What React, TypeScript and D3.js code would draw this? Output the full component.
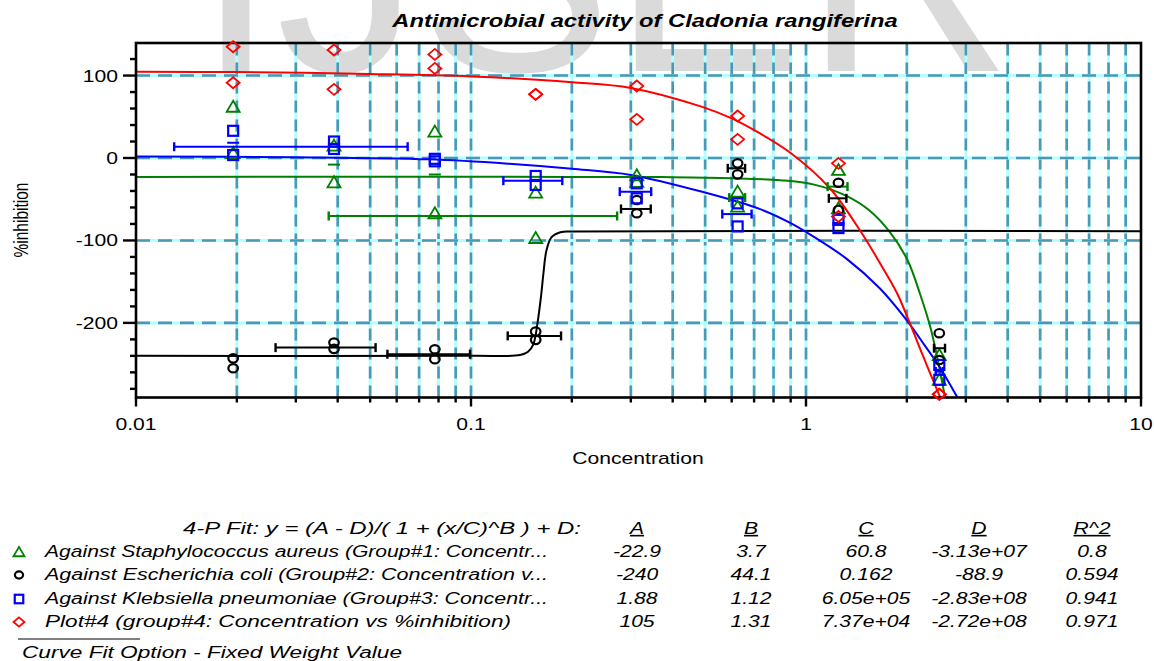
import React, { useEffect, useRef } from "react";
import * as d3 from "d3";

// Dilution series (x values of the replicates)
const concentrations = [0.0195, 0.039, 0.078, 0.156, 0.3125, 0.625, 1.25, 2.5];

// Replicate readings, %inhibition, two per concentration
const staphRep1 = [62.2, 15, 32, -42, -21, -40.8, -14.5, -239];
const staphRep2 = [6, -29.5, -67, -97, -29, -59, -61, -269];
const ecoliRep1 = [-243, -223.8, -232, -210.5, -51, -6.5, -30, -212.5];
const ecoliRep2 = [-255, -231.5, -244, -220.6, -67, -19.8, -63, -245];
const klebRep1 = [33, 20, -1, -21.8, -30.7, -55, -75, -251];
const klebRep2 = [3.6, 11, -4, -32.7, -48.9, -83, -85, -269];
const plot4Rep1 = [135, 131, 125.7, 77.2, 87.3, 50.9, -6.5, -286.5];
const plot4Rep2 = [91.3, 83.3, 108.7, 77.2, 46.9, 22.6, -71, -286.5];

// Horizontal error bars: [low conc, high conc, %inhibition]
const staphErrors = [
  [0.0376, 0.273, -70.3],
  [0.59, 0.658, -48],
  [1.16, 1.33, -34.7],
];
const ecoliErrors = [
  [0.0261, 0.0519, -230],
  [0.0563, 0.0993, -238],
  [0.1287, 0.1857, -215.8],
  [0.2804, 0.344, -61.8],
  [0.584, 0.658, -12.5],
  [1.17, 1.32, -48.9],
  [2.41, 2.6, -230.7],
];
const klebErrors = [
  [0.013, 0.0647, 13.7],
  [0.1249, 0.1873, -27.5],
  [0.278, 0.345, -40.8],
  [0.5625, 0.688, -68],
  [2.44, 2.56, -259],
];
// lone error caps: [conc, %inhibition]
const staphCaps = [
  [0.039, -8],
  [0.078, -20],
];
const klebCaps = [[0.0195, 18.5]];

// Fitted 4-P curves: [conc, %inhibition]
const staphCurve = [
  [0.01, -22.9], [0.2, -22.9], [0.4, -23.3], [0.6, -24.5], [0.84, -27],
  [1.05, -32], [1.32, -46], [1.55, -64], [1.78, -90], [2.01, -124],
  [2.19, -165], [2.35, -205], [2.46, -240], [2.55, -272], [2.6, -291],
];
const ecoliCurve = [
  [0.01, -240], [0.1, -240], [0.14, -239], [0.148, -235], [0.1535, -226],
  [0.158, -200], [0.162, -166], [0.1645, -140], [0.168, -112], [0.174, -96],
  [0.185, -90], [0.2, -89], [10, -88.9],
];
const klebCurve = [
  [0.01, 1.9], [0.03, 1], [0.075, -1.6], [0.13, -7], [0.2, -13], [0.3, -20.5],
  [0.49, -41], [0.73, -62], [0.9, -79], [1.05, -95], [1.32, -122],
  [1.66, -158], [2.0, -197], [2.25, -226], [2.52, -255], [2.8, -287], [2.84, -291],
];
const plot4Curve = [
  [0.01, 104.6], [0.02, 104.2], [0.05, 102], [0.1, 99], [0.2, 92], [0.3, 85],
  [0.49, 62], [0.6, 48], [0.72, 31], [0.9, 6], [1.18, -37], [1.45, -88],
  [1.66, -127], [1.87, -164], [2.04, -200], [2.24, -241], [2.46, -281], [2.52, -291],
];

// Axis ticks
const xTickValues = [0.01, 0.1, 1, 10];
const xTickLabels = ["0.01", "0.1", "1", "10"];
const yTickValues = [100, 0, -100, -200];
const yTickLabels = ["100", "0", "-100", "-200"];

// Fit table
const legendLabels = [
  "Against Staphylococcus aureus (Group#1: Concentr...",
  "Against Escherichia coli (Group#2: Concentration v...",
  "Against Klebsiella pneumoniae (Group#3: Concentr...",
  "Plot#4 (group#4: Concentration vs %inhibition)",
];
const paramHeaders = ["A", "B", "C", "D", "R^2"];
const paramA = ["-22.9", "-240", "1.88", "105"];
const paramB = ["3.7", "44.1", "1.12", "1.31"];
const paramC = ["60.8", "0.162", "6.05e+05", "7.37e+04"];
const paramD = ["-3.13e+07", "-88.9", "-2.83e+08", "-2.72e+08"];
const rSquared = ["0.8", "0.594", "0.941", "0.971"];

const FONT = "'Liberation Sans', Arial, Helvetica, sans-serif";
const SX = 1.32; // the picture is stretched sideways

const App: React.FC = () => {
  const svgRef = useRef<SVGSVGElement | null>(null);

  useEffect(() => {
    if (!svgRef.current) return;
    document.body.style.margin = "0";
    const svg = d3.select(svgRef.current);
    svg.selectAll("*").remove();

    const left = 136, right = 1141, top = 43, bottom = 397.5;
    const x = d3.scaleLog().domain([0.01, 10]).range([left, right]);
    const y = d3.scaleLinear().domain([-290.5, 139.5]).range([bottom, top]);

    // stretched text helper
    const txt = (
      g: any, px: number, py: number, s: string,
      o: { size?: number; anchor?: string; weight?: string; style?: string; len?: number; rot?: boolean; deco?: string } = {}
    ) => {
      const t = g.append("text")
        .attr("font-family", FONT)
        .attr("font-size", o.size ?? 16)
        .attr("font-weight", o.weight ?? "normal")
        .attr("font-style", o.style ?? "normal")
        .attr("text-anchor", o.anchor ?? "start")
        .attr("fill", "#000")
        .text(s);
      if (o.deco) t.attr("text-decoration", o.deco);
      if (o.len) {
        t.attr("x", px).attr("y", py).attr("textLength", o.len).attr("lengthAdjust", "spacingAndGlyphs");
      } else {
        t.attr("transform", `translate(${px},${py}) scale(${SX},1)${o.rot ? " rotate(-90)" : ""}`);
      }
      return t;
    };

    // watermark
    svg.append("text")
      .attr("x", 196).attr("y", 71)
      .attr("font-family", FONT).attr("font-size", 288)
      .attr("fill", "#dadada").text("IJSER");

    const defs = svg.append("defs");
    defs.append("clipPath").attr("id", "plotClip")
      .append("rect").attr("x", left).attr("y", top)
      .attr("width", right - left).attr("height", bottom - top);

    // grid
    const grid = svg.append("g");
    const vGrid: number[] = [];
    [0.01, 0.1, 1].forEach((d) => {
      for (let m = 1; m <= 9; m++) if (!(d === 0.01 && m === 1)) vGrid.push(d * m);
    });
    vGrid.forEach((v) => {
      grid.append("line").attr("x1", x(v)).attr("x2", x(v)).attr("y1", top).attr("y2", bottom)
        .attr("stroke", "#b6fdfd").attr("stroke-width", 3);
      grid.append("line").attr("x1", x(v)).attr("x2", x(v)).attr("y1", bottom).attr("y2", top)
        .attr("stroke", "#4898b6").attr("stroke-width", 2.6).attr("stroke-dasharray", "12,7");
    });
    yTickValues.forEach((v) => {
      grid.append("line").attr("x1", left).attr("x2", right).attr("y1", y(v)).attr("y2", y(v))
        .attr("stroke", "#b6fdfd").attr("stroke-width", 3);
      grid.append("line").attr("x1", left).attr("x2", right).attr("y1", y(v)).attr("y2", y(v))
        .attr("stroke", "#4898b6").attr("stroke-width", 2.6).attr("stroke-dasharray", "14,8");
    });

    // curves
    const line = d3.line<number[]>()
      .x((d) => x(d[0]))
      .y((d) => y(d[1]))
      .curve(d3.curveCatmullRom.alpha(0.5));
    const curves = svg.append("g").attr("clip-path", "url(#plotClip)");
    ([
      [staphCurve, "#008000"],
      [ecoliCurve, "#000000"],
      [klebCurve, "#0000ff"],
      [plot4Curve, "#ff0000"],
    ] as [number[][], string][]).forEach(([data, color]) => {
      curves.append("path").datum(data).attr("fill", "none")
        .attr("stroke", color).attr("stroke-width", 2).attr("d", line);
    });

    // frame, ticks
    const axis = svg.append("g");
    axis.append("rect").attr("x", left).attr("y", top)
      .attr("width", right - left).attr("height", bottom - top)
      .attr("fill", "none").attr("stroke", "#000").attr("stroke-width", 2.6);
    for (let v = -280; v <= 120; v += 20) {
      const major = v % 100 === 0;
      axis.append("line").attr("x1", major ? left - 13 : left - 6).attr("x2", left)
        .attr("y1", y(v)).attr("y2", y(v)).attr("stroke", "#000").attr("stroke-width", 2.4);
    }
    [0.01, 0.1, 1].forEach((d) => {
      for (let m = 1; m <= 9; m++) {
        const v = d * m;
        axis.append("line").attr("x1", x(v)).attr("x2", x(v))
          .attr("y1", bottom).attr("y2", m === 1 ? bottom + 9 : bottom + 5)
          .attr("stroke", "#000").attr("stroke-width", 2.4);
      }
    });
    axis.append("line").attr("x1", x(10)).attr("x2", x(10))
      .attr("y1", bottom).attr("y2", bottom + 9).attr("stroke", "#000").attr("stroke-width", 2.4);

    yTickValues.forEach((v, i) => txt(axis, 118, y(v) + 6, yTickLabels[i], { anchor: "end" }));
    xTickValues.forEach((v, i) => txt(axis, x(v), 429.5, xTickLabels[i], { anchor: "middle" }));
    txt(axis, 638, 464, "Concentration", { anchor: "middle", size: 16 });
    txt(axis, 28, 220, "%inhibition", { anchor: "middle", size: 15.5, rot: true });
    txt(svg, 645, 27, "Antimicrobial activity of Cladonia rangiferina", {
      anchor: "middle", size: 18, weight: "bold", style: "italic",
    });

    // markers
    const drawMarker = (g: any, shape: string, cx: number, cy: number, color: string, k = 1) => {
      if (shape === "tri") {
        g.append("path").attr("d", `M${cx},${cy - 6 * k}L${cx + 6.5 * k},${cy + 5 * k}L${cx - 6.5 * k},${cy + 5 * k}Z`)
          .attr("fill", "none").attr("stroke", color).attr("stroke-width", 1.8);
      } else if (shape === "circ") {
        g.append("ellipse").attr("cx", cx).attr("cy", cy).attr("rx", 4.8 * k).attr("ry", 4.2 * k)
          .attr("fill", "none").attr("stroke", color).attr("stroke-width", 2.2);
      } else if (shape === "sq") {
        g.append("rect").attr("x", cx - 5 * k).attr("y", cy - 5 * k).attr("width", 10 * k).attr("height", 10 * k)
          .attr("fill", "none").attr("stroke", color).attr("stroke-width", 2.2);
      } else {
        g.append("path").attr("d", `M${cx},${cy - 5.5 * k}L${cx + 6.5 * k},${cy}L${cx},${cy + 5.5 * k}L${cx - 6.5 * k},${cy}Z`)
          .attr("fill", "none").attr("stroke", color).attr("stroke-width", 1.8);
      }
    };

    const marks = svg.append("g");
    const groups: [number[][], number[][], number[][], string, string][] = [
      [[staphRep1, staphRep2], staphErrors, staphCaps, "tri", "#008000"],
      [[ecoliRep1, ecoliRep2], ecoliErrors, [], "circ", "#000000"],
      [[klebRep1, klebRep2], klebErrors, klebCaps, "sq", "#0000ff"],
      [[plot4Rep1, plot4Rep2], [], [], "dia", "#ff0000"],
    ];
    groups.forEach(([reps, errs, caps, shape, color]) => {
      errs.forEach(([lo, hi, v]) => {
        marks.append("line").attr("x1", x(lo)).attr("x2", x(hi)).attr("y1", y(v)).attr("y2", y(v))
          .attr("stroke", color).attr("stroke-width", 2);
        [lo, hi].forEach((c) =>
          marks.append("line").attr("x1", x(c)).attr("x2", x(c)).attr("y1", y(v) - 4.5).attr("y2", y(v) + 4.5)
            .attr("stroke", color).attr("stroke-width", 2.4)
        );
      });
      caps.forEach(([c, v]) => {
        marks.append("line").attr("x1", x(c) - 6).attr("x2", x(c) + 6).attr("y1", y(v)).attr("y2", y(v))
          .attr("stroke", color).attr("stroke-width", 2);
      });
      reps.forEach((rep) =>
        rep.forEach((v, i) => drawMarker(marks, shape, x(concentrations[i]), y(v), color))
      );
    });

    // fit table
    const table = svg.append("g");
    const rowY = [557, 580, 604, 627];
    const colX = [637, 751, 866, 979, 1092];
    txt(table, 581, 534, "4-P Fit: y = (A - D)/( 1 + (x/C)^B ) + D:", {
      anchor: "end", size: 16, style: "italic", len: 398,
    });
    paramHeaders.forEach((h, i) =>
      txt(table, colX[i], 534, h, { anchor: "middle", size: 16, style: "italic", deco: "underline" })
    );
    const labelLens = [503, 503, 503, 466];
    groups.forEach(([, , , shape, color], i) => {
      drawMarker(table, shape, 19, rowY[i] - 5, color, 0.85);
      txt(table, 45, rowY[i], legendLabels[i], { size: 16, style: "italic", len: labelLens[i] });
      [paramA, paramB, paramC, paramD, rSquared].forEach((col, j) =>
        txt(table, colX[j], rowY[i], col[i], { anchor: "middle", size: 16, style: "italic" })
      );
    });
    table.append("line").attr("x1", 18).attr("x2", 140).attr("y1", 639).attr("y2", 639)
      .attr("stroke", "#000").attr("stroke-width", 1);
    txt(table, 22, 658, "Curve Fit Option - Fixed Weight Value", { size: 16, style: "italic", len: 380 });
  }, []);

  return (
    <svg
      ref={svgRef}
      width={1154}
      height={661}
      style={{ position: "absolute", left: 0, top: 0, background: "#fff" }}
    />
  );
};

export default App;
